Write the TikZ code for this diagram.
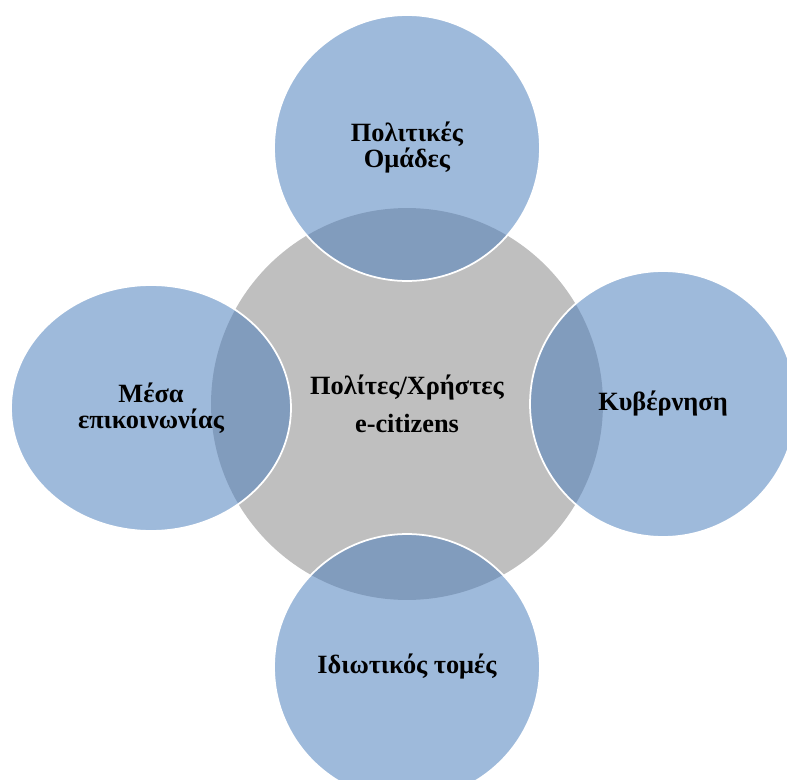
\documentclass[tikz,border=0pt]{standalone}
\usepackage{fontspec}
\setmainfont{Liberation Serif}
\usetikzlibrary{shapes.geometric}
\definecolor{hubgray}{HTML}{BFBFBF}
\definecolor{petal}{HTML}{4F81BD}

\begin{document}
\begin{tikzpicture}[x=0.02cm, y=-0.02cm,
    font=\fontsize{15}{14.8}\selectfont\bfseries,
    c/.style={circle, align=center, inner sep=0pt},
    hub/.style={c, fill=hubgray, minimum size=7.84cm},
    pet/.style={c, fill=petal, fill opacity=0.55, text opacity=1, draw=white, line width=1pt, minimum size=5.32cm},
]
    \useasboundingbox (0,0) rectangle (787,780);
    \clip (0,0) rectangle (787,780);
    \node[hub] (users) at (407,404) {Πολίτες/Χρήστες\\[7pt]e-citizens};
    \node[pet] (parties) at (407,148) {Πολιτικές\\Ομάδες};
    \node[pet, ellipse, minimum width=5.6cm, minimum height=4.92cm] (media) at (151,408) {Μέσα\\επικοινωνίας};
    \node[pet] (gov) at (663,404) {Κυβέρνηση};
    \node[pet] (private) at (407,667) {Ιδιωτικός τομές};
\end{tikzpicture}
\end{document}
